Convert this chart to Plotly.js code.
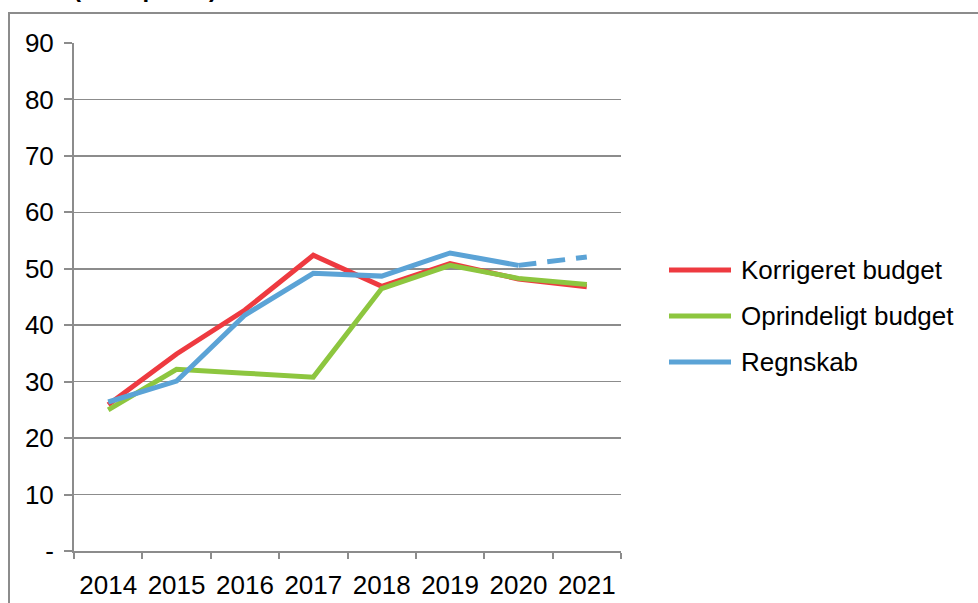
<!DOCTYPE html>
<html>
<head>
<meta charset="utf-8">
<script src="https://cdn.plot.ly/plotly-3.0.1.min.js"></script>
<style>html,body{margin:0;padding:0;background:#fff;}#chart{width:978px;height:603px;}</style>
</head>
<body>
<div id="chart"></div>
<script>
var years = ["2014","2015","2016","2017","2018","2019","2020","2021"];
var korrigeret = [25.9, 34.9, 42.7, 52.4, 46.9, 50.9, 48.2, 46.8];
var oprindeligt = [25.0, 32.2, 31.5, 30.8, 46.5, 50.6, 48.3, 47.2];
var regnskab = [26.4, 30.1, 41.8, 49.2, 48.7, 52.8, 50.6, null];
var regnskabForecast = [null, null, null, null, null, null, 50.6, 52.1];
var seriesNames = ["Korrigeret budget", "Oprindeligt budget", "Regnskab"];
var yTickVals = [0,10,20,30,40,50,60,70,80,90];
var yTickText = ["-","10","20","30","40","50","60","70","80","90"];
var unitText = "(2021-priser)";

var colors = ["#EE3A40", "#8DC63F", "#5BA3D6"];
var font = "Liberation Sans, Arial, sans-serif";

var L = 74, R = 621, T = 43, B = 551, W = 978, H = 603;
var pw = R - L, ph = B - T;
function px(x){ return (x - L) / pw; }
function py(y){ return (B - y) / ph; }

var traces = [
  {x: years, y: korrigeret, name: seriesNames[0], type: "scatter", mode: "lines",
   line: {color: colors[0], width: 5}},
  {x: years, y: oprindeligt, name: seriesNames[1], type: "scatter", mode: "lines",
   line: {color: colors[1], width: 5}},
  {x: years, y: regnskab, name: seriesNames[2], type: "scatter", mode: "lines",
   line: {color: colors[2], width: 5}},
  {x: years, y: regnskabForecast, name: seriesNames[2], type: "scatter", mode: "lines",
   showlegend: false, line: {color: colors[2], width: 5, dash: "18px,11px"}}
];

var shapes = [
  {type: "rect", xref: "paper", yref: "paper", x0: px(9), x1: px(1000), y0: py(640), y1: py(13),
   line: {color: "#8c8c8c", width: 2}, fillcolor: "rgba(0,0,0,0)", layer: "below"}
];
var annotations = [
  {xref: "paper", yref: "paper", x: px(71), y: py(4), xanchor: "left", yanchor: "bottom",
   text: unitText, showarrow: false, font: {family: font, size: 24, color: "#000", weight: "bold"}}
];
var legY = [270, 316, 362];
for (var i = 0; i < 3; i++) {
  shapes.push({type: "line", xref: "paper", yref: "paper", x0: px(669), x1: px(731),
    y0: py(legY[i]), y1: py(legY[i]), line: {color: colors[i], width: 5}});
  annotations.push({xref: "paper", yref: "paper", x: px(739), y: py(legY[i]), xanchor: "left",
    yanchor: "middle", text: seriesNames[i], showarrow: false,
    font: {family: font, size: 26, color: "#000"}});
}

var layout = {
  width: W, height: H,
  margin: {l: L, r: W - R, t: T, b: H - B, pad: 0},
  paper_bgcolor: "#fff", plot_bgcolor: "#fff",
  showlegend: false,
  font: {family: font, size: 26, color: "#000"},
  xaxis: {type: "category", range: [-0.5, 7.5], showgrid: false, showline: true,
    linecolor: "#8c8c8c", linewidth: 2, ticks: "outside", tickson: "boundaries",
    ticklen: 6, tickwidth: 2, tickcolor: "#8c8c8c", ticklabelstandoff: 10,
    tickfont: {family: font, size: 26, color: "#000"}, zeroline: false, fixedrange: true},
  yaxis: {range: [0, 90], tickvals: yTickVals, ticktext: yTickText, showgrid: true,
    gridcolor: "#8c8c8c", gridwidth: 1.5, showline: true, linecolor: "#8c8c8c", linewidth: 2,
    ticks: "outside", ticklen: 8, tickwidth: 2, tickcolor: "#8c8c8c", ticklabelstandoff: 5,
    tickfont: {family: font, size: 26, color: "#000"}, zeroline: false, fixedrange: true},
  shapes: shapes,
  annotations: annotations
};

Plotly.newPlot("chart", traces, layout, {staticPlot: true, displayModeBar: false});
</script>
</body>
</html>
